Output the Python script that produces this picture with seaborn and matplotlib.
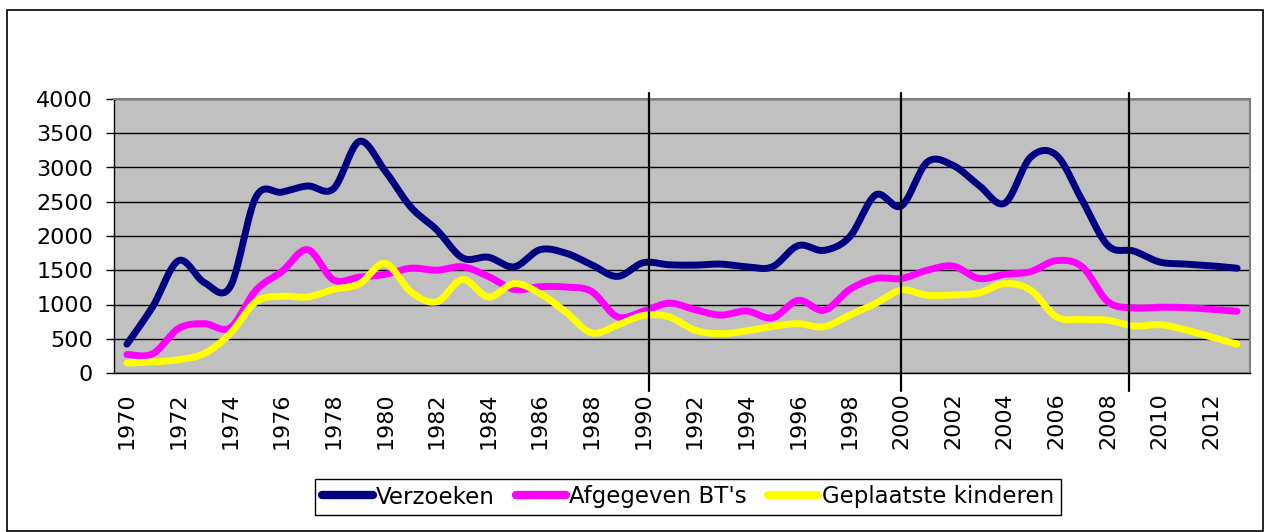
# Verzoeken / afgegeven BT's / geplaatste kinderen 1970-2013
import numpy as np
import pandas as pd
import matplotlib
matplotlib.use("Agg")
import matplotlib.pyplot as plt
from matplotlib.patches import Rectangle
import seaborn as sns

# --------------------------------------------
# Data
# --------------------------------------------
years = list(range(1970, 2014))

verzoeken = [420, 970, 1640, 1320, 1260, 2570, 2640, 2730, 2690, 3380,
             2950, 2420, 2090, 1680, 1690, 1550, 1800, 1750, 1580, 1410,
             1610, 1580, 1575, 1590, 1550, 1550, 1860, 1790, 1990, 2600,
             2440, 3080, 3030, 2740, 2480, 3150, 3180, 2520, 1860, 1780,
             1620, 1590, 1565, 1530]

afgegeven = [270, 280, 650, 720, 660, 1210, 1480, 1800, 1360, 1400,
             1440, 1530, 1500, 1550, 1410, 1220, 1260, 1255, 1190, 820,
             900, 1020, 925, 845, 905, 805, 1060, 915, 1220, 1380,
             1380, 1500, 1560, 1380, 1440, 1480, 1640, 1550, 1040, 950,
             960, 955, 930, 900]

geplaatst = [145, 160, 195, 285, 575, 1040, 1120, 1110, 1220, 1300,
             1600, 1185, 1040, 1365, 1110, 1305, 1160, 890, 585, 700,
             840, 820, 625, 575, 615, 680, 720, 675, 845, 1015,
             1210, 1135, 1140, 1170, 1305, 1210, 820, 780, 770, 685,
             705, 630, 525, 420]

series_names = ["Verzoeken", "Afgegeven BT's", "Geplaatste kinderen"]
series_values = [verzoeken, afgegeven, geplaatst]
colors = ["#000080", "#FF00FF", "#FFFF00"]

# years where the vertical marker lines stand
marker_years = [1990.22, 2000, 2008.8]


# --------------------------------------------
# Excel-like smoothed line (Catmull-Rom drawing of the points)
# --------------------------------------------
def smooth(x, y, steps=24):
    x = np.asarray(x, float)
    y = np.asarray(y, float)
    px = np.concatenate([[x[0]], x, [x[-1]]])
    py = np.concatenate([[y[0]], y, [y[-1]]])
    xs, ys = [], []
    t = np.linspace(0, 1, steps, endpoint=False)
    for i in range(1, len(px) - 2):
        for p, out in ((px, xs), (py, ys)):
            p0, p1, p2, p3 = p[i - 1], p[i], p[i + 1], p[i + 2]
            c1 = p1 + (p2 - p0) / 6
            c2 = p2 - (p3 - p1) / 6
            out.extend((1 - t) ** 3 * p1 + 3 * (1 - t) ** 2 * t * c1
                       + 3 * (1 - t) * t ** 2 * c2 + t ** 3 * p2)
    xs.append(x[-1])
    ys.append(y[-1])
    return np.array(xs), np.array(ys)


frames = []
for name, vals in zip(series_names, series_values):
    sx, sy = smooth(years, vals)
    frames.append(pd.DataFrame({"jaar": sx, "aantal": sy, "serie": name}))
df = pd.concat(frames, ignore_index=True)

# --------------------------------------------
# Plot
# --------------------------------------------
sns.set_style("white")
plt.rcParams["font.family"] = ["DejaVu Sans"]
plt.rcParams["text.color"] = "black"
plt.rcParams["xtick.color"] = "black"
plt.rcParams["ytick.color"] = "black"

fig = plt.figure(figsize=(12.71, 5.32), dpi=100)
ax = fig.add_axes([114 / 1271, 1 - 373 / 532, (1250 - 114) / 1271, (373 - 99) / 532])
ax.set_facecolor("#C0C0C0")

sns.lineplot(data=df, x="jaar", y="aantal", hue="serie", palette=colors,
             hue_order=series_names, sort=False, estimator=None,
             linewidth=5, solid_capstyle="round", solid_joinstyle="round",
             legend=False, ax=ax)

ax.set_xlim(1969.5, 2013.5)
ax.set_ylim(0, 4000)
ax.set_yticks(range(0, 4001, 500))
ax.yaxis.grid(True, color="black", linewidth=1)
ax.set_axisbelow(True)

# tick marks between categories, labels at every second year
ax.set_xticks(np.arange(1969.5, 2014, 1))
ax.set_xticklabels([])
ax.set_xticks(years[::2], minor=True)
ax.set_xticklabels([str(y) for y in years[::2]], minor=True, rotation=90)
ax.tick_params(axis="x", which="major", direction="out", length=6, width=1, color="black")
ax.tick_params(axis="x", which="minor", length=0, pad=14, labelsize=16, labelcolor="black")
ax.tick_params(axis="y", direction="out", length=6, width=1, color="black",
               pad=9, labelsize=16, labelcolor="black", left=True)
ax.set_xlabel("")
ax.set_ylabel("")

for side in ["left", "bottom"]:
    ax.spines[side].set_color("black")
    ax.spines[side].set_linewidth(1)
for side in ["top", "right"]:
    ax.spines[side].set_color("#808080")
    ax.spines[side].set_linewidth(1.5)

# vertical marker lines
for yr in marker_years:
    ax.plot([yr, yr], [1.022, -0.066], color="black", linewidth=1.6,
            transform=ax.get_xaxis_transform(), clip_on=False, zorder=5)

# legend
handles = [plt.Line2D([], [], color=c, linewidth=6, solid_capstyle="round") for c in colors]
leg = ax.legend(handles, series_names, loc="center", ncol=3,
                bbox_to_anchor=(688 / 1271, 1 - 497 / 532), bbox_transform=fig.transFigure,
                fontsize=16.5, frameon=True, fancybox=False, framealpha=1,
                edgecolor="black", handlelength=2.2, handletextpad=0.15,
                columnspacing=0.9, borderpad=0.3, labelcolor="black")
leg.get_frame().set_linewidth(1)

# outer chart border
fig.patches.append(Rectangle((7 / 1271, 1 / 532), 1256 / 1271, 521 / 532,
                             transform=fig.transFigure, fill=False,
                             edgecolor="black", linewidth=1.2))

fig.savefig("out.png", dpi=100)
